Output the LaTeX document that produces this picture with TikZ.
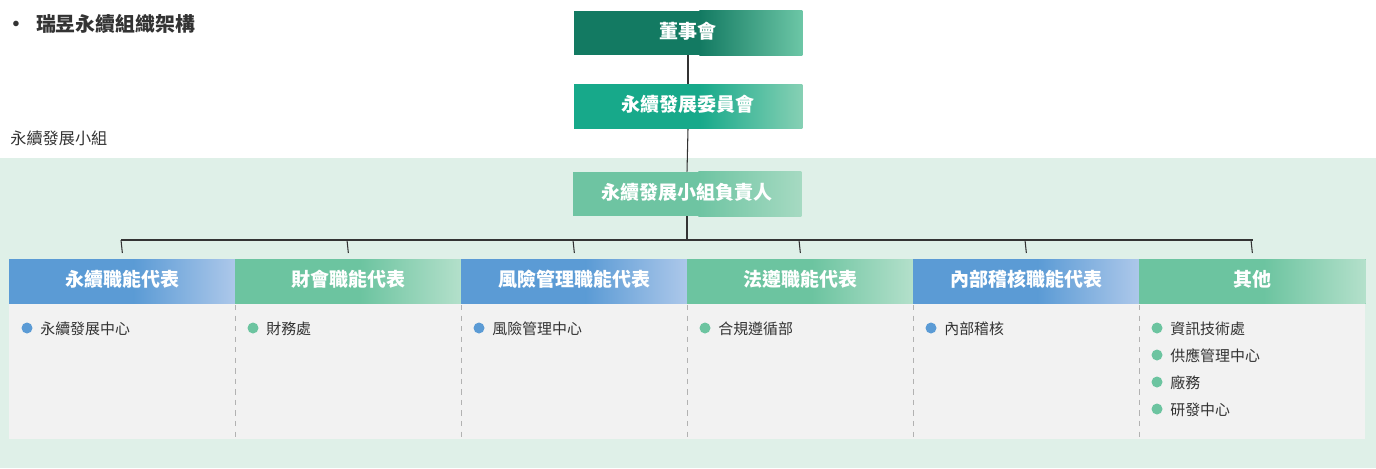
\documentclass[tikz,border=0pt]{standalone}
\usepackage{fontspec}
\setmainfont{Noto Sans CJK TC}
\usetikzlibrary{positioning, calc}
\definecolor{board}{HTML}{137A62}
\definecolor{boardR}{HTML}{6CC6A6}
\definecolor{comm}{HTML}{17A98A}
\definecolor{commR}{HTML}{86D0B4}
\definecolor{lead}{HTML}{6EC4A2}
\definecolor{leadR}{HTML}{A6DAC2}
\definecolor{blueH}{HTML}{5B9BD5}
\definecolor{blueR}{HTML}{ADC8EA}
\definecolor{greenH}{HTML}{6CC4A0}
\definecolor{greenR}{HTML}{B4E0CB}
\definecolor{band}{HTML}{DFF0E8}
\definecolor{cell}{HTML}{F2F2F2}
\definecolor{ink}{HTML}{333333}
\tikzset{
  box/.style={minimum width=228*0.02cm, minimum height=44*0.02cm,
              inner sep=0pt, font=\fontsize{10.8}{12}\selectfont\bfseries, text=white},
  link/.style={draw=ink, line width=0.6pt},
  item/.style={anchor=west, font=\fontsize{8.5}{10}\selectfont, text=ink, inner sep=0pt},
  dot/.style={circle, inner sep=0pt, minimum size=11*0.02cm},
}
% right-hand fade of a box
\newcommand{\fadebox}[3]{%
  \fill[#2] (#1.south west) rectangle (#1.north east);
  \shade[left color=#2, right color=#3] ($(#1.south west)!0.55!(#1.south east)$) rectangle (#1.north east);
  \node[font=\fontsize{10.8}{12}\selectfont\bfseries, text=white] at (#1) {\strut\csname lbl#1\endcsname};}
\begin{document}
\begin{tikzpicture}[x=0.02cm, y=-0.02cm]
  \useasboundingbox (0,0) rectangle (1376,468);
  \fill[band] (0,158) rectangle (1376,468);

  % title
  \node[anchor=west, font=\fontsize{11.3}{13}\selectfont\bfseries, text=ink, inner sep=0pt] (title) at (6,24) {·\hspace{0.5em}瑞昱永續組織架構};
  \node[anchor=west, font=\fontsize{9.2}{11}\selectfont, text=ink, inner sep=0pt] (grp) at (10,138) {永續發展小組};

  % top chain
  \node[box] (board) at (688,33) {};
  \node[box] (comm) at (688,106.5) {};
  \node[box] (lead) at (687,194) {};
  \def\lblboard{董事會}\def\lblcomm{永續發展委員會}\def\lbllead{永續發展小組負責人}
  \draw[link] (board.south) -- (comm.north);
  \draw[link] (comm.south) -- (lead.north);
  \coordinate (bus) at (687,240);
  \draw[link] (lead.south) -- (bus);
  \draw[link] (121,240) -- (1253,240);

  % column headers and bodies
  \foreach \i/\x/\c/\t in {1/9/blueH/永續職能代表, 2/235/greenH/財會職能代表,
      3/461/blueH/風險管理職能代表, 4/687/greenH/法遵職能代表,
      5/913/blueH/內部稽核職能代表, 6/1139/greenH/其他} {
    \fill[cell] (\x,302) rectangle (\x+226,439);
    \node[box, minimum width=226*0.02cm, anchor=north west] (h\i) at (\x,259) {};
    \expandafter\xdef\csname lblh\i\endcsname{\t}
    \coordinate (top\i) at (\x+112,240);
    \draw[link] (top\i) -- (h\i.north |- 0,253);
  }
  \fadebox{board}{board}{boardR}
  \fadebox{comm}{comm}{commR}
  \fadebox{lead}{lead}{leadR}
  \fadebox{h1}{blueH}{blueR}
  \fadebox{h2}{greenH}{greenR}
  \fadebox{h3}{blueH}{blueR}
  \fadebox{h4}{greenH}{greenR}
  \fadebox{h5}{blueH}{blueR}
  \fadebox{h6}{greenH}{greenR}

  % dashed separators
  \foreach \x in {235,461,687,913,1139}
    \draw[gray!60, dashed, line width=0.4pt] (\x,305) -- (\x,437);

  % items
  \foreach \x/\c/\t/\k in {9/blueH/永續發展中心/0, 235/greenH/財務處/0,
      461/blueH/風險管理中心/0, 687/greenH/合規遵循部/0, 913/blueH/內部稽核/0,
      1139/greenH/資訊技術處/0, 1139/greenH/供應管理中心/1,
      1139/greenH/廠務/2, 1139/greenH/研發中心/3} {
    \node[dot, fill=\c] at (\x+18,328+27*\k) {};
    \node[item] at (\x+31,329+27*\k) {\t};
  }
\end{tikzpicture}
\end{document}
